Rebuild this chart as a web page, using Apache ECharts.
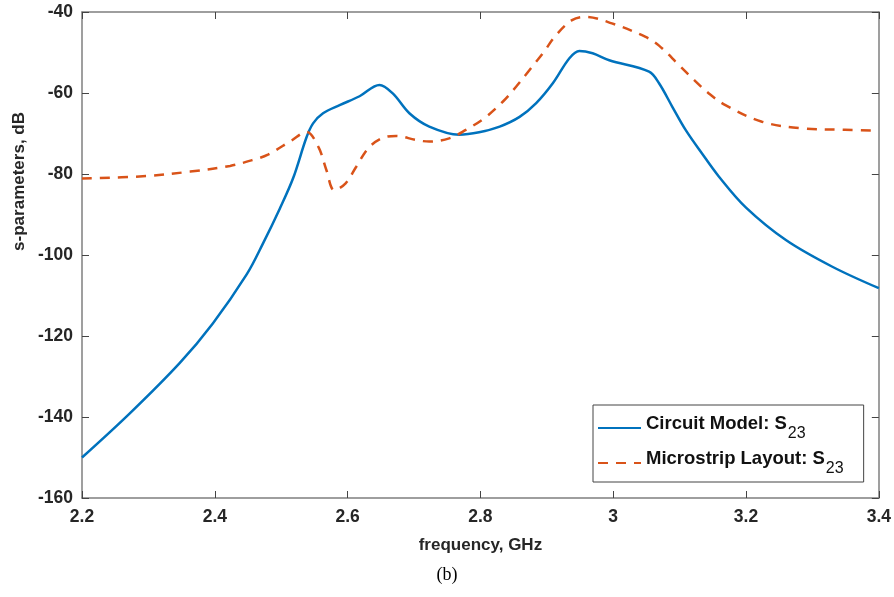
<!DOCTYPE html>
<html>
<head>
<meta charset="utf-8">
<script src="https://cdn.jsdelivr.net/npm/echarts@6/dist/echarts.min.js"></script>
<style>html,body{margin:0;padding:0;background:#fff;}#c{width:894px;height:597px;}</style>
</head>
<body>
<div id="c"></div>
<script>
// Frequency (GHz) and S23 (dB)
const circuitFreq = [2.2, 2.272, 2.347, 2.397, 2.448, 2.473, 2.498, 2.518, 2.538, 2.548, 2.563, 2.588, 2.618, 2.648, 2.668, 2.693, 2.723, 2.768, 2.798, 2.829, 2.859, 2.884, 2.909, 2.934, 2.949, 2.969, 2.994, 3.054, 3.069, 3.089, 3.109, 3.134, 3.159, 3.2, 3.26, 3.33, 3.4];
const circuitS23 = [-150, -139.1, -126.7, -116.9, -104.8, -97, -88.5, -81, -71, -67.5, -65, -63, -60.8, -58, -60.1, -65, -68.3, -70.3, -69.7, -68.3, -65.9, -62.5, -57.6, -51.4, -49.6, -50.2, -51.9, -54.7, -57.6, -63.4, -69.1, -75, -80.6, -88.3, -96.3, -102.9, -108.2];

const layoutFreq = [2.2, 2.298, 2.363, 2.423, 2.458, 2.48, 2.515, 2.538, 2.556, 2.568, 2.58, 2.597, 2.613, 2.633, 2.658, 2.673, 2.703, 2.723, 2.753, 2.778, 2.806, 2.834, 2.854, 2.874, 2.894, 2.914, 2.938, 2.958, 2.998, 3.048, 3.069, 3.099, 3.122, 3.144, 3.169, 3.224, 3.284, 3.349, 3.4];
const layoutS23 = [-81.1, -80.5, -79.4, -78, -76.5, -75.2, -71.8, -69.6, -73.3, -79, -84, -82.3, -78.2, -73.3, -70.8, -70.6, -71.6, -72, -71.2, -69.1, -66.2, -62.1, -58.4, -54.3, -50.2, -45.7, -42, -41.2, -42.8, -46.1, -48.3, -53.1, -56.8, -60.1, -63, -67.1, -68.7, -69.1, -69.3];

const xTicks = [2.2, 2.4, 2.6, 2.8, 3, 3.2, 3.4];
const yTicks = [-160, -140, -120, -100, -80, -60, -40];
const seriesNames = ['Circuit Model: S23', 'Microstrip Layout: S23'];

const pairs = (xs, ys) => xs.map((x, i) => [x, ys[i]]);

const chart = echarts.init(document.getElementById('c'), null, {renderer: 'canvas'});
const labelStyle = {color: '#262626', fontFamily: 'Liberation Sans, Arial, sans-serif', fontWeight: 'bold', fontSize: 17.5};
const axisLineStyle = {lineStyle: {color: '#7f7f7f', width: 1.5}};
const tickStyle = {inside: true, length: 7, lineStyle: {color: '#444', width: 1}};

chart.setOption({
  animation: false,
  backgroundColor: '#fff',
  grid: {left: 82, right: 14, top: 12, bottom: 99, containLabel: false},
  xAxis: [{
    type: 'value', min: xTicks[0], max: xTicks[xTicks.length - 1], interval: 0.2,
    position: 'bottom',
    axisLine: axisLineStyle, axisTick: tickStyle, splitLine: {show: false},
    axisLabel: Object.assign({margin: 10, formatter: v => String(+v.toFixed(1))}, labelStyle),
    name: 'frequency, GHz', nameLocation: 'middle', nameGap: 39,
    nameTextStyle: Object.assign({}, labelStyle, {fontSize: 17})
  }, {
    type: 'value', min: xTicks[0], max: xTicks[xTicks.length - 1], interval: 0.2,
    position: 'top',
    axisLine: axisLineStyle, axisTick: tickStyle, axisLabel: {show: false}, splitLine: {show: false}
  }],
  yAxis: [{
    type: 'value', min: yTicks[0], max: yTicks[yTicks.length - 1], interval: 20,
    position: 'left',
    axisLine: axisLineStyle, axisTick: tickStyle, splitLine: {show: false},
    axisLabel: Object.assign({margin: 9}, labelStyle)
  }, {
    type: 'value', min: yTicks[0], max: yTicks[yTicks.length - 1], interval: 20,
    position: 'right',
    axisLine: axisLineStyle, axisTick: tickStyle, axisLabel: {show: false}, splitLine: {show: false}
  }],
  legend: {
    orient: 'vertical', left: 593, top: 405,
    padding: [9, 20, 5, 4], itemGap: 7, itemWidth: 43, itemHeight: 14,
    backgroundColor: '#fff', borderColor: '#444', borderWidth: 1, borderRadius: 0,
    itemStyle: {opacity: 0},
    data: seriesNames,
    formatter: name => '{a|' + name.replace('S23', 'S') + '}{b|23}',
    textStyle: {
      color: '#111',
      rich: {
        a: {fontFamily: 'Liberation Sans, Arial, sans-serif', fontWeight: 'bold', fontSize: 18.5, color: '#111', lineHeight: 28, verticalAlign: 'top', padding: [0, 0, 8, 0]},
        b: {fontFamily: 'Liberation Sans, Arial, sans-serif', fontSize: 16, color: '#111', lineHeight: 28, verticalAlign: 'bottom', padding: [10, 0, 0, 1]}
      }
    }
  },
  graphic: [{
    type: 'text', left: 11, top: 112, rotation: Math.PI / 2,
    style: {text: 's-parameters, dB', fill: '#262626', font: 'bold 17px "Liberation Sans", Arial, sans-serif'}
  }, {
    type: 'text', left: 'center', top: 566,
    style: {text: '(b)', fill: '#000', font: '18px "Liberation Serif", "Times New Roman", serif'}
  }],
  series: [{
    name: seriesNames[0], type: 'line', data: pairs(circuitFreq, circuitS23),
    smooth: 0.35, showSymbol: false, symbol: 'none',
    itemStyle: {color: '#0072BD'},
    lineStyle: {color: '#0072BD', width: 2.5}
  }, {
    name: seriesNames[1], type: 'line', data: pairs(layoutFreq, layoutS23),
    smooth: 0.35, showSymbol: false, symbol: 'none',
    itemStyle: {color: '#D95319'},
    lineStyle: {color: '#D95319', width: 2.5, type: [10, 8]}
  }]
});
</script>
</body>
</html>
